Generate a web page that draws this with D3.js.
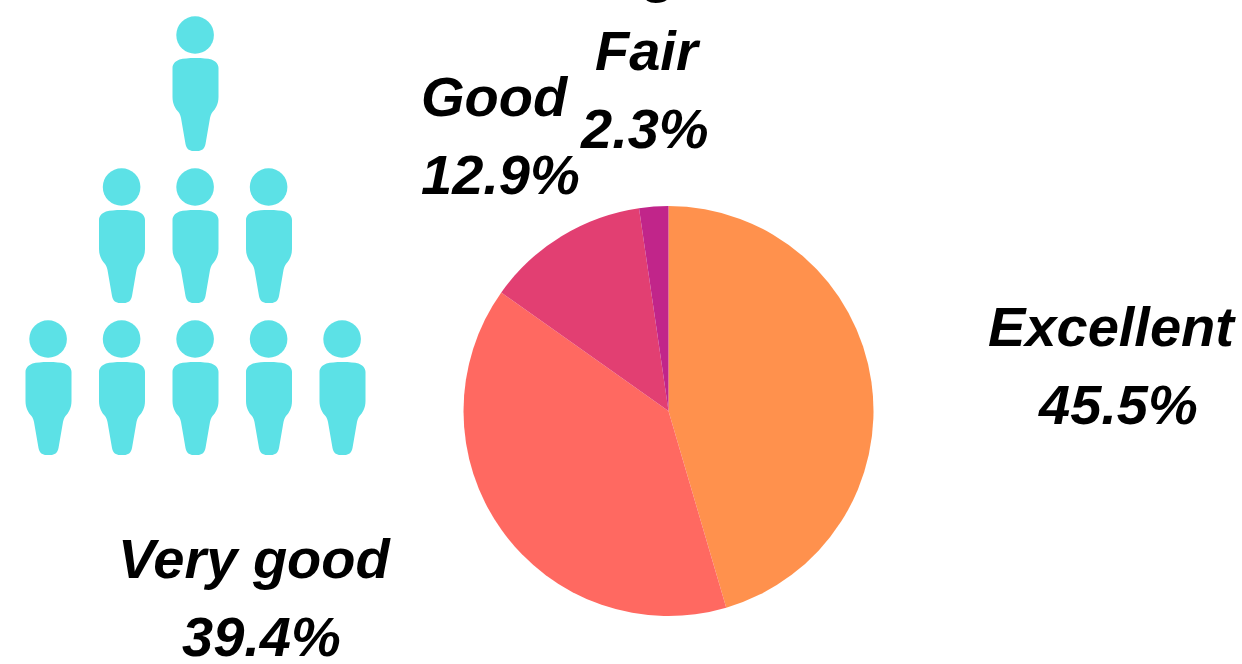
<!DOCTYPE html>
<html>
<head>
<meta charset="utf-8">
<script src="https://cdn.jsdelivr.net/npm/d3@7"></script>
<style>
  html, body { margin: 0; padding: 0; background: #fff; }
  svg { display: block; }
  .label { font-family: "Liberation Sans", sans-serif; font-weight: bold; font-style: italic; font-size: 56px; fill: #000; }
</style>
</head>
<body>
<svg width="1242" height="664"></svg>
<script>
var categories = ['Excellent', 'Very good', 'Good', 'Fair'];
var shares = [45.5, 39.4, 12.9, 2.3];
var colors = ['#ff914d', '#ff6961', '#e23f72', '#c1258a'];
var iconRows = [1, 3, 5]; // people per row of the pictogram

var svg = d3.select('svg');

// pie
var pie = d3.pie().sort(null).value(function(d) { return d; });
var arc = d3.arc().innerRadius(0).outerRadius(205);

svg.append('g')
    .attr('transform', 'translate(668.5,411)')
  .selectAll('path')
    .data(pie(shares))
  .enter().append('path')
    .attr('d', arc)
    .attr('fill', function(d, i) { return colors[i]; });

// pictogram
var xScale = d3.scaleLinear().domain([-2, 2]).range([48.5, 342.5]);
var yScale = d3.scaleLinear().domain([0, 2]).range([35, 339]);

var body = 'M0,23C-7,23 -12,23.5 -16,24.5C-20,26 -23,29 -23,33L-23,62C-23,69 -20,74 -17,77' +
  'C-15.5,79 -15,81 -14.5,83L-10,109C-9,114 -6,116 -2,116L2,116C6,116 9,114 10,109L14.5,83' +
  'C15,81 15.5,79 17,77C20,74 23,69 23,62L23,33C23,29 20,26 16,24.5C12,23.5 7,23 0,23Z';

iconRows.forEach(function(count, row) {
  d3.range(count).forEach(function(i) {
    var g = svg.append('g')
      .attr('fill', '#5ce1e6')
      .attr('transform', 'translate(' + xScale(i - (count - 1) / 2) + ',' + yScale(row) + ')');
    g.append('circle').attr('r', 18.8).attr('cx', -0.4);
    g.append('path').attr('d', body);
  });
});

// labels, name line then value line
var labelPos = [
  {name: [988, 346], value: [1039, 424]},
  {name: [118, 578], value: [182, 656]},
  {name: [421, 116], value: [421, 194]},
  {name: [595, 70], value: [581, 148]}
];

categories.forEach(function(c, i) {
  svg.append('text').attr('class', 'label')
    .attr('x', labelPos[i].name[0]).attr('y', labelPos[i].name[1]).text(c);
  svg.append('text').attr('class', 'label')
    .attr('x', labelPos[i].value[0]).attr('y', labelPos[i].value[1]).text(shares[i] + '%');
});

// only the tail of a letter is left of the line above Fair, the rest is cut off by the top edge
svg.append('text').attr('class', 'label')
  .attr('x', 644).attr('y', -9).text('g');
</script>
</body>
</html>
